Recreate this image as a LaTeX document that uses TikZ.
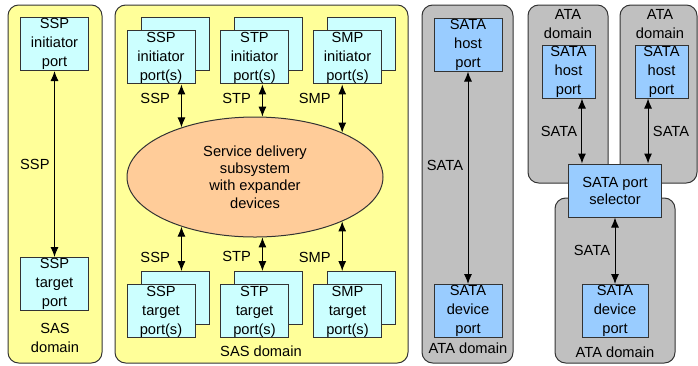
\documentclass[tikz,border=0pt]{standalone}
\usepackage{fontspec}
\setmainfont{Liberation Sans}
\usetikzlibrary{positioning, shapes.geometric, arrows.meta}

\definecolor{sasyellow}{HTML}{FFFF99}
\definecolor{atagray}{HTML}{C0C0C0}
\definecolor{sascyan}{HTML}{CCFFFF}
\definecolor{satablue}{HTML}{99CCFF}
\definecolor{sdsorange}{HTML}{FFCC99}

\tikzset{
    dombox/.style={draw=black!80, line width=0.75pt, rounded corners=8pt, inner sep=0pt, minimum height=268.5pt},
    sasdom/.style={dombox, fill=sasyellow},
    atadom/.style={dombox, fill=atagray},
    portbox/.style={draw=black!80, line width=0.75pt, align=center, inner sep=0pt, minimum width=51pt, minimum height=39.75pt},
    sasport/.style={portbox, fill=sascyan},
    sataport/.style={portbox, fill=satablue},
    link/.style={{Latex[length=7.5pt,width=6pt]}-{Latex[length=7.5pt,width=6pt]}, line width=0.75pt},
}

\begin{document}
\begin{tikzpicture}[x=0.75pt, y=-0.75pt, font=\fontsize{11}{14.3}\selectfont]
    \useasboundingbox (0,0) rectangle (698,365);

    % domains
    \node[sasdom, minimum width=70.5pt] (sas1) at (55,184) {};
    \node[sasdom, minimum width=219.75pt] (sas2) at (261.5,184) {};
    \node[atadom, minimum width=68.25pt] (ata1) at (467.5,184) {};
    \node[atadom, minimum width=60pt, minimum height=133.5pt] (ata2) at (568,94) {};
    \node[atadom, minimum width=57.75pt, minimum height=133.5pt] (ata3) at (658.5,94) {};
    \node[atadom, minimum width=90pt, minimum height=123.75pt] (ata4) at (615,280.5) {};

    \node[align=center] (sas1-lbl) at (55,337.5) {SAS\\domain};
    \node (sas2-lbl) at (261,351) {SAS domain};
    \node (ata1-lbl) at (468,348) {ATA domain};
    \node[align=center] (ata2-lbl) at (568,24) {ATA\\domain};
    \node[align=center] (ata3-lbl) at (660,24) {ATA\\domain};
    \node (ata4-lbl) at (615,352) {ATA domain};

    % SAS domain, one initiator and one target
    \node[sasport] (ssp-i) at (54.5,44) {SSP\\initiator\\port};
    \node[sasport] (ssp-t) at (54.5,284) {SSP\\target\\port};
    \path[link] (ssp-i) edge node[left] {SSP} (ssp-t);

    % SAS domain with expanders
    \node[sasport] (ssp-ib) at (175,44) {};
    \node[sasport, on grid] (ssp-i2) [below left=10.1pt and 10.5pt of ssp-ib] {SSP\\initiator\\port(s)};
    \node[sasport] (stp-ib) at (268.5,44) {};
    \node[sasport, on grid] (stp-i) [below left=10.1pt and 10.5pt of stp-ib] {STP\\initiator\\port(s)};
    \node[sasport] (smp-ib) at (361.5,44) {};
    \node[sasport, on grid] (smp-i) [below left=10.1pt and 10.5pt of smp-ib] {SMP\\initiator\\port(s)};

    \node[ellipse, draw=black!80, line width=0.75pt, fill=sdsorange, inner sep=0pt,
          minimum width=192pt, minimum height=90pt, align=center,
          font=\fontsize{11}{13.1}\selectfont] (sds) at (255,177)
          {Service delivery\\subsystem\\with expander\\devices};

    \node[sasport] (ssp-tb) at (175,298) {};
    \node[sasport, on grid] (ssp-t2) [below left=10.1pt and 10.5pt of ssp-tb] {SSP\\target\\port(s)};
    \node[sasport] (stp-tb) at (268.5,298) {};
    \node[sasport, on grid] (stp-t) [below left=10.1pt and 10.5pt of stp-tb] {STP\\target\\port(s)};
    \node[sasport] (smp-tb) at (361.5,298) {};
    \node[sasport, on grid] (smp-t) [below left=10.1pt and 10.5pt of smp-tb] {SMP\\target\\port(s)};

    \path[link]
        (sds.146) edge node[pos=0.68, left=5pt] {SSP} (sds.146 |- ssp-i2.south)
        (sds.83)  edge node[pos=0.58, left=5pt] {STP} (sds.83 |- stp-i.south)
        (sds.27)  edge node[pos=0.71, left=5pt] {SMP} (sds.27 |- smp-i.south)
        (sds.214) edge node[pos=0.69, left=5pt] {SSP} (sds.214 |- ssp-tb.north)
        (sds.277) edge node[pos=0.58, left=5pt] {STP} (sds.277 |- stp-tb.north)
        (sds.333) edge node[pos=0.72, left=5pt] {SMP} (sds.333 |- smp-tb.north);

    % ATA domain, host to device
    \node[sataport] (hp1) at (468,44.5) {SATA\\host\\port};
    \node[sataport] (dp1) at (468,311) {SATA\\device\\port};
    \path[link] (hp1) edge node[pos=0.44, left] {SATA} (dp1);

    % two ATA domains through a port selector
    \node[sataport, minimum width=39.75pt] (hp2) at (568.5,71.5) {SATA\\host\\port};
    \node[sataport, minimum width=39.75pt] (hp3) at (661.5,71.5) {SATA\\host\\port};
    \node[sataport, minimum width=69.75pt, font=\fontsize{11}{12.8}\selectfont] (sel) at (615,190.5) {SATA port\\selector};
    \node[sataport, minimum width=49.5pt] (dp2) at (615,311) {SATA\\device\\port};

    \coordinate (a2) at ([xshift=10.1pt]hp2.south);
    \coordinate (a3) at ([xshift=-10.1pt]hp3.south);
    \path[link]
        (a2) edge node[left] {SATA} (a2 |- sel.north)
        (a3) edge node[right] {SATA} (a3 |- sel.north)
        (sel) edge node[left] {SATA} (dp2);
\end{tikzpicture}
\end{document}
